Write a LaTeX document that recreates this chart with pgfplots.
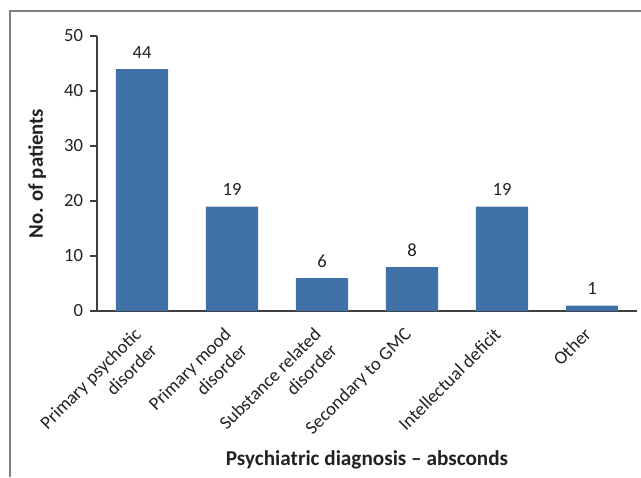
\documentclass[border=0pt]{standalone}
\usepackage{pgfplots}
\pgfplotsset{compat=1.18}
\usepackage{fontspec}
\setmainfont{Carlito}
\definecolor{barblue}{RGB}{64,114,168}
\definecolor{axisgray}{RGB}{64,64,64}
\definecolor{framegray}{RGB}{128,128,128}
\definecolor{txt}{RGB}{34,34,34}
\begin{document}
\begin{tikzpicture}
\useasboundingbox (0,0) rectangle (320.5pt,238.5pt);
\draw[framegray, line width=0.6pt] (320.5pt,233pt) -- (5pt,233pt) -- (5pt,0pt);
\begin{axis}[
  at={(48.5pt,83pt)}, anchor=south west,
  width=270pt, height=137.5pt, scale only axis,
  xmin=-0.5, xmax=5.5, ymin=0, ymax=50,
  axis lines*=left,
  axis line style={axisgray, line width=0.6pt},
  every tick/.style={axisgray, line width=0.6pt},
  tick align=outside,
  ytick={0,10,...,50},
  major tick length=3.5pt,
  xtick={0,1,2,3,4,5},
  x tick style={draw=none},
  minor xtick={-0.5,0.5,1.5,2.5,3.5,4.5,5.5},
  minor x tick style={axisgray, line width=0.6pt},
  minor tick length=3pt,
  xticklabels={{Primary psychotic\\disorder},{Primary mood\\disorder},{Substance related\\disorder},{Secondary to GMC},{Intellectual deficit},{Other}},
  xticklabel style={xshift=-4.5pt, yshift=-4pt, rotate=45, anchor=north east, align=right, inner sep=0pt, font=\fontsize{9.3}{11.4}\selectfont, text=txt},
  yticklabel style={font=\fontsize{9.3}{11}\selectfont, text=txt},
  /pgf/number format/assume math mode=true,
  ylabel={No. of patients},
  xlabel={Psychiatric diagnosis – absconds},
  ylabel style={at={(axis description cs:-0.1,0.5)}, anchor=base, font=\bfseries\fontsize{10.4}{12}\selectfont, text=txt},
  xlabel style={at={(axis description cs:0.5,-0.56)}, anchor=base, font=\bfseries\fontsize{10.6}{12}\selectfont, text=txt},
  nodes near coords,
  nodes near coords style={anchor=base, yshift=5.5pt, font=\fontsize{9.3}{11}\selectfont, text=txt},
  clip=false,
]
\addplot[ybar, bar width=0.58, fill=barblue, draw=none] coordinates {(0,44) (1,19) (2,6) (3,8) (4,19) (5,1)};
\end{axis}
\end{tikzpicture}
\end{document}
